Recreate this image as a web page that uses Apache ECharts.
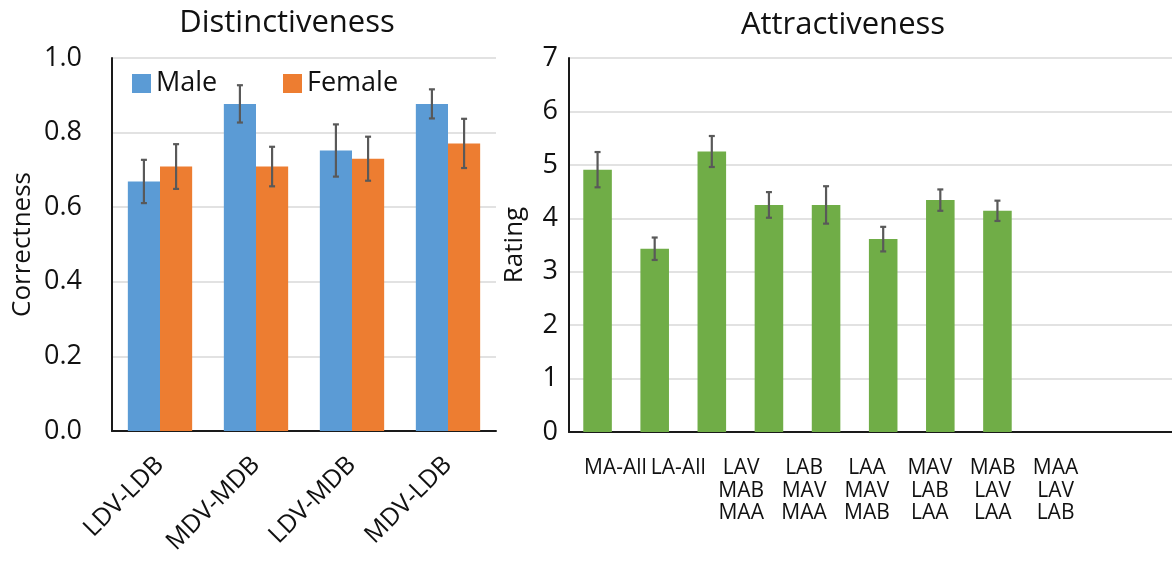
<!DOCTYPE html>
<html>
<head>
<meta charset="utf-8">
<script src="https://cdn.jsdelivr.net/npm/echarts@6/dist/echarts.min.js"></script>
<style>
html,body{margin:0;padding:0;background:#fff;}
#c{width:1172px;height:567px;}
</style>
</head>
<body>
<div id="c"></div>
<script>
// ---- data ----
const categoriesL = ['LDV-LDB', 'MDV-MDB', 'LDV-MDB', 'MDV-LDB'];
const maleVals = [0.669, 0.877, 0.752, 0.877];
const maleErr = [0.058, 0.050, 0.070, 0.039];
const femaleVals = [0.709, 0.709, 0.730, 0.771];
const femaleErr = [0.060, 0.053, 0.059, 0.066];
const ticksL = [0, 0.2, 0.4, 0.6, 0.8, 1.0];

const categoriesR = ['MA-All', 'LA-All', 'LAV\nMAB\nMAA', 'LAB\nMAV\nMAA', 'LAA\nMAV\nMAB', 'MAV\nLAB\nLAA', 'MAB\nLAV\nLAA', 'MAA\nLAV\nLAB'];
const ratingVals = [4.91, 3.43, 5.25, 4.25, 4.25, 3.61, 4.34, 4.14];
const ratingErr = [0.33, 0.21, 0.29, 0.24, 0.35, 0.23, 0.20, 0.19];
const ticksR = [0, 1, 2, 3, 4, 5, 6, 7];

// ---- styling ----
const FONT = 'Open Sans';
const TXT = '#111111';
const AXIS = '#1a1a1a';
const GRIDC = '#d9d9d9';
const ERRC = '#595959';

function errSeries(name, xi, yi, vals, errs, frac) {
  return {
    type: 'custom', name: name, xAxisIndex: xi, yAxisIndex: yi, z: 5,
    silent: true,
    encode: { x: 0, y: 1 },
    data: vals.map((v, i) => [i, v, errs[i]]),
    renderItem: function (params, api) {
      const i = api.value(0), v = api.value(1), e = api.value(2);
      const band = api.size([1, 0])[0];
      const c = api.coord([i, v]);
      const x = c[0] + frac * band;
      const yt = api.coord([i, v + e])[1];
      const yb = api.coord([i, v - e])[1];
      const st = { stroke: ERRC, lineWidth: 2.2 };
      return {
        type: 'group',
        children: [
          { type: 'line', shape: { x1: x, y1: yt, x2: x, y2: yb }, style: st },
          { type: 'line', shape: { x1: x - 3, y1: yt, x2: x + 3, y2: yt }, style: st },
          { type: 'line', shape: { x1: x - 3, y1: yb, x2: x + 3, y2: yb }, style: st }
        ]
      };
    }
  };
}

const chart = echarts.init(document.getElementById('c'), null, { renderer: 'canvas' });
const option = {
  animation: false,
  textStyle: { fontFamily: FONT, color: TXT },
  title: [
    { text: 'Distinctiveness', left: 282, top: 3, textAlign: 'center',
      textStyle: { fontFamily: FONT, fontSize: 31, fontWeight: 'normal', color: TXT } },
    { text: 'Attractiveness', left: 838, top: 5, textAlign: 'center',
      textStyle: { fontFamily: FONT, fontSize: 31, fontWeight: 'normal', color: TXT } }
  ],
  legend: [
    { data: ['Male'], left: 127, top: 65, icon: 'rect', itemWidth: 19, itemHeight: 19, itemGap: 6,
      textStyle: { fontFamily: FONT, fontSize: 27, color: TXT } },
    { data: ['Female'], left: 278, top: 65, icon: 'rect', itemWidth: 19, itemHeight: 19,
      textStyle: { fontFamily: FONT, fontSize: 27, color: TXT } }
  ],
  grid: [
    { left: 112, top: 58, width: 384, height: 373, containLabel: false },   // left chart
    { left: 569, top: 58, width: 457, height: 374, containLabel: false },   // right bars
    { left: 569, top: 58, width: 603, height: 374, containLabel: false },   // right gridlines + baseline
    { left: 584, top: 58, width: 503, height: 374, containLabel: false }    // right labels
  ],
  xAxis: [
    { gridIndex: 0, type: 'category', data: categoriesL,
      axisLine: { show: true, lineStyle: { color: AXIS, width: 2 } },
      axisTick: { show: false },
      axisLabel: { rotate: 45, margin: 30, fontFamily: FONT, fontSize: 25, color: TXT, interval: 0 } },
    { gridIndex: 1, type: 'category', data: categoriesR,
      axisLine: { show: false }, axisTick: { show: false }, axisLabel: { show: false } },
    { gridIndex: 2, type: 'value', min: 0, max: 1,
      axisLine: { show: true, onZero: false, lineStyle: { color: AXIS, width: 2 } },
      axisTick: { show: false }, axisLabel: { show: false }, splitLine: { show: false } },
    { gridIndex: 3, type: 'category', data: categoriesR,
      axisLine: { show: false }, axisTick: { show: false },
      axisLabel: { interval: 0, margin: 25, fontFamily: FONT, fontSize: 21, lineHeight: 22.5, color: TXT } }
  ],
  yAxis: [
    { gridIndex: 0, type: 'value', min: ticksL[0], max: ticksL[ticksL.length - 1], interval: 0.2,
      name: 'Correctness', nameLocation: 'middle', nameGap: 76,
      nameTextStyle: { fontFamily: FONT, fontSize: 26, color: TXT },
      axisLine: { show: true, lineStyle: { color: AXIS, width: 2 } },
      axisTick: { show: false },
      axisLabel: { margin: 30, fontFamily: FONT, fontSize: 27, color: TXT, formatter: v => v.toFixed(1) },
      splitLine: { show: true, lineStyle: { color: GRIDC, width: 1.5 } } },
    { gridIndex: 1, type: 'value', min: ticksR[0], max: ticksR[ticksR.length - 1], interval: 1,
      name: 'Rating', nameLocation: 'middle', nameGap: 41,
      nameTextStyle: { fontFamily: FONT, fontSize: 26, color: TXT },
      axisLine: { show: true, lineStyle: { color: AXIS, width: 2 } },
      axisTick: { show: false },
      axisLabel: { margin: 11, fontFamily: FONT, fontSize: 27, color: TXT },
      splitLine: { show: false } },
    { gridIndex: 2, type: 'value', min: ticksR[0], max: ticksR[ticksR.length - 1], interval: 1,
      axisLine: { show: false }, axisTick: { show: false }, axisLabel: { show: false },
      splitLine: { show: true, lineStyle: { color: GRIDC, width: 1.5 } } },
    { gridIndex: 3, type: 'value', min: 0, max: 7, show: false }
  ],
  series: [
    { name: 'Male', type: 'bar', xAxisIndex: 0, yAxisIndex: 0, data: maleVals,
      itemStyle: { color: '#5b9bd5' }, barGap: '0%', barCategoryGap: '33%' },
    { name: 'Female', type: 'bar', xAxisIndex: 0, yAxisIndex: 0, data: femaleVals,
      itemStyle: { color: '#ed7d31' }, barGap: '0%', barCategoryGap: '33%' },
    errSeries('MaleErr', 0, 0, maleVals, maleErr, -0.1675),
    errSeries('FemaleErr', 0, 0, femaleVals, femaleErr, 0.1675),
    { name: 'Rating', type: 'bar', xAxisIndex: 1, yAxisIndex: 1, data: ratingVals,
      itemStyle: { color: '#70ad47' }, barCategoryGap: '50%' },
    errSeries('RatingErr', 1, 1, ratingVals, ratingErr, 0)
  ]
};
chart.setOption(option);
</script>
</body>
</html>
